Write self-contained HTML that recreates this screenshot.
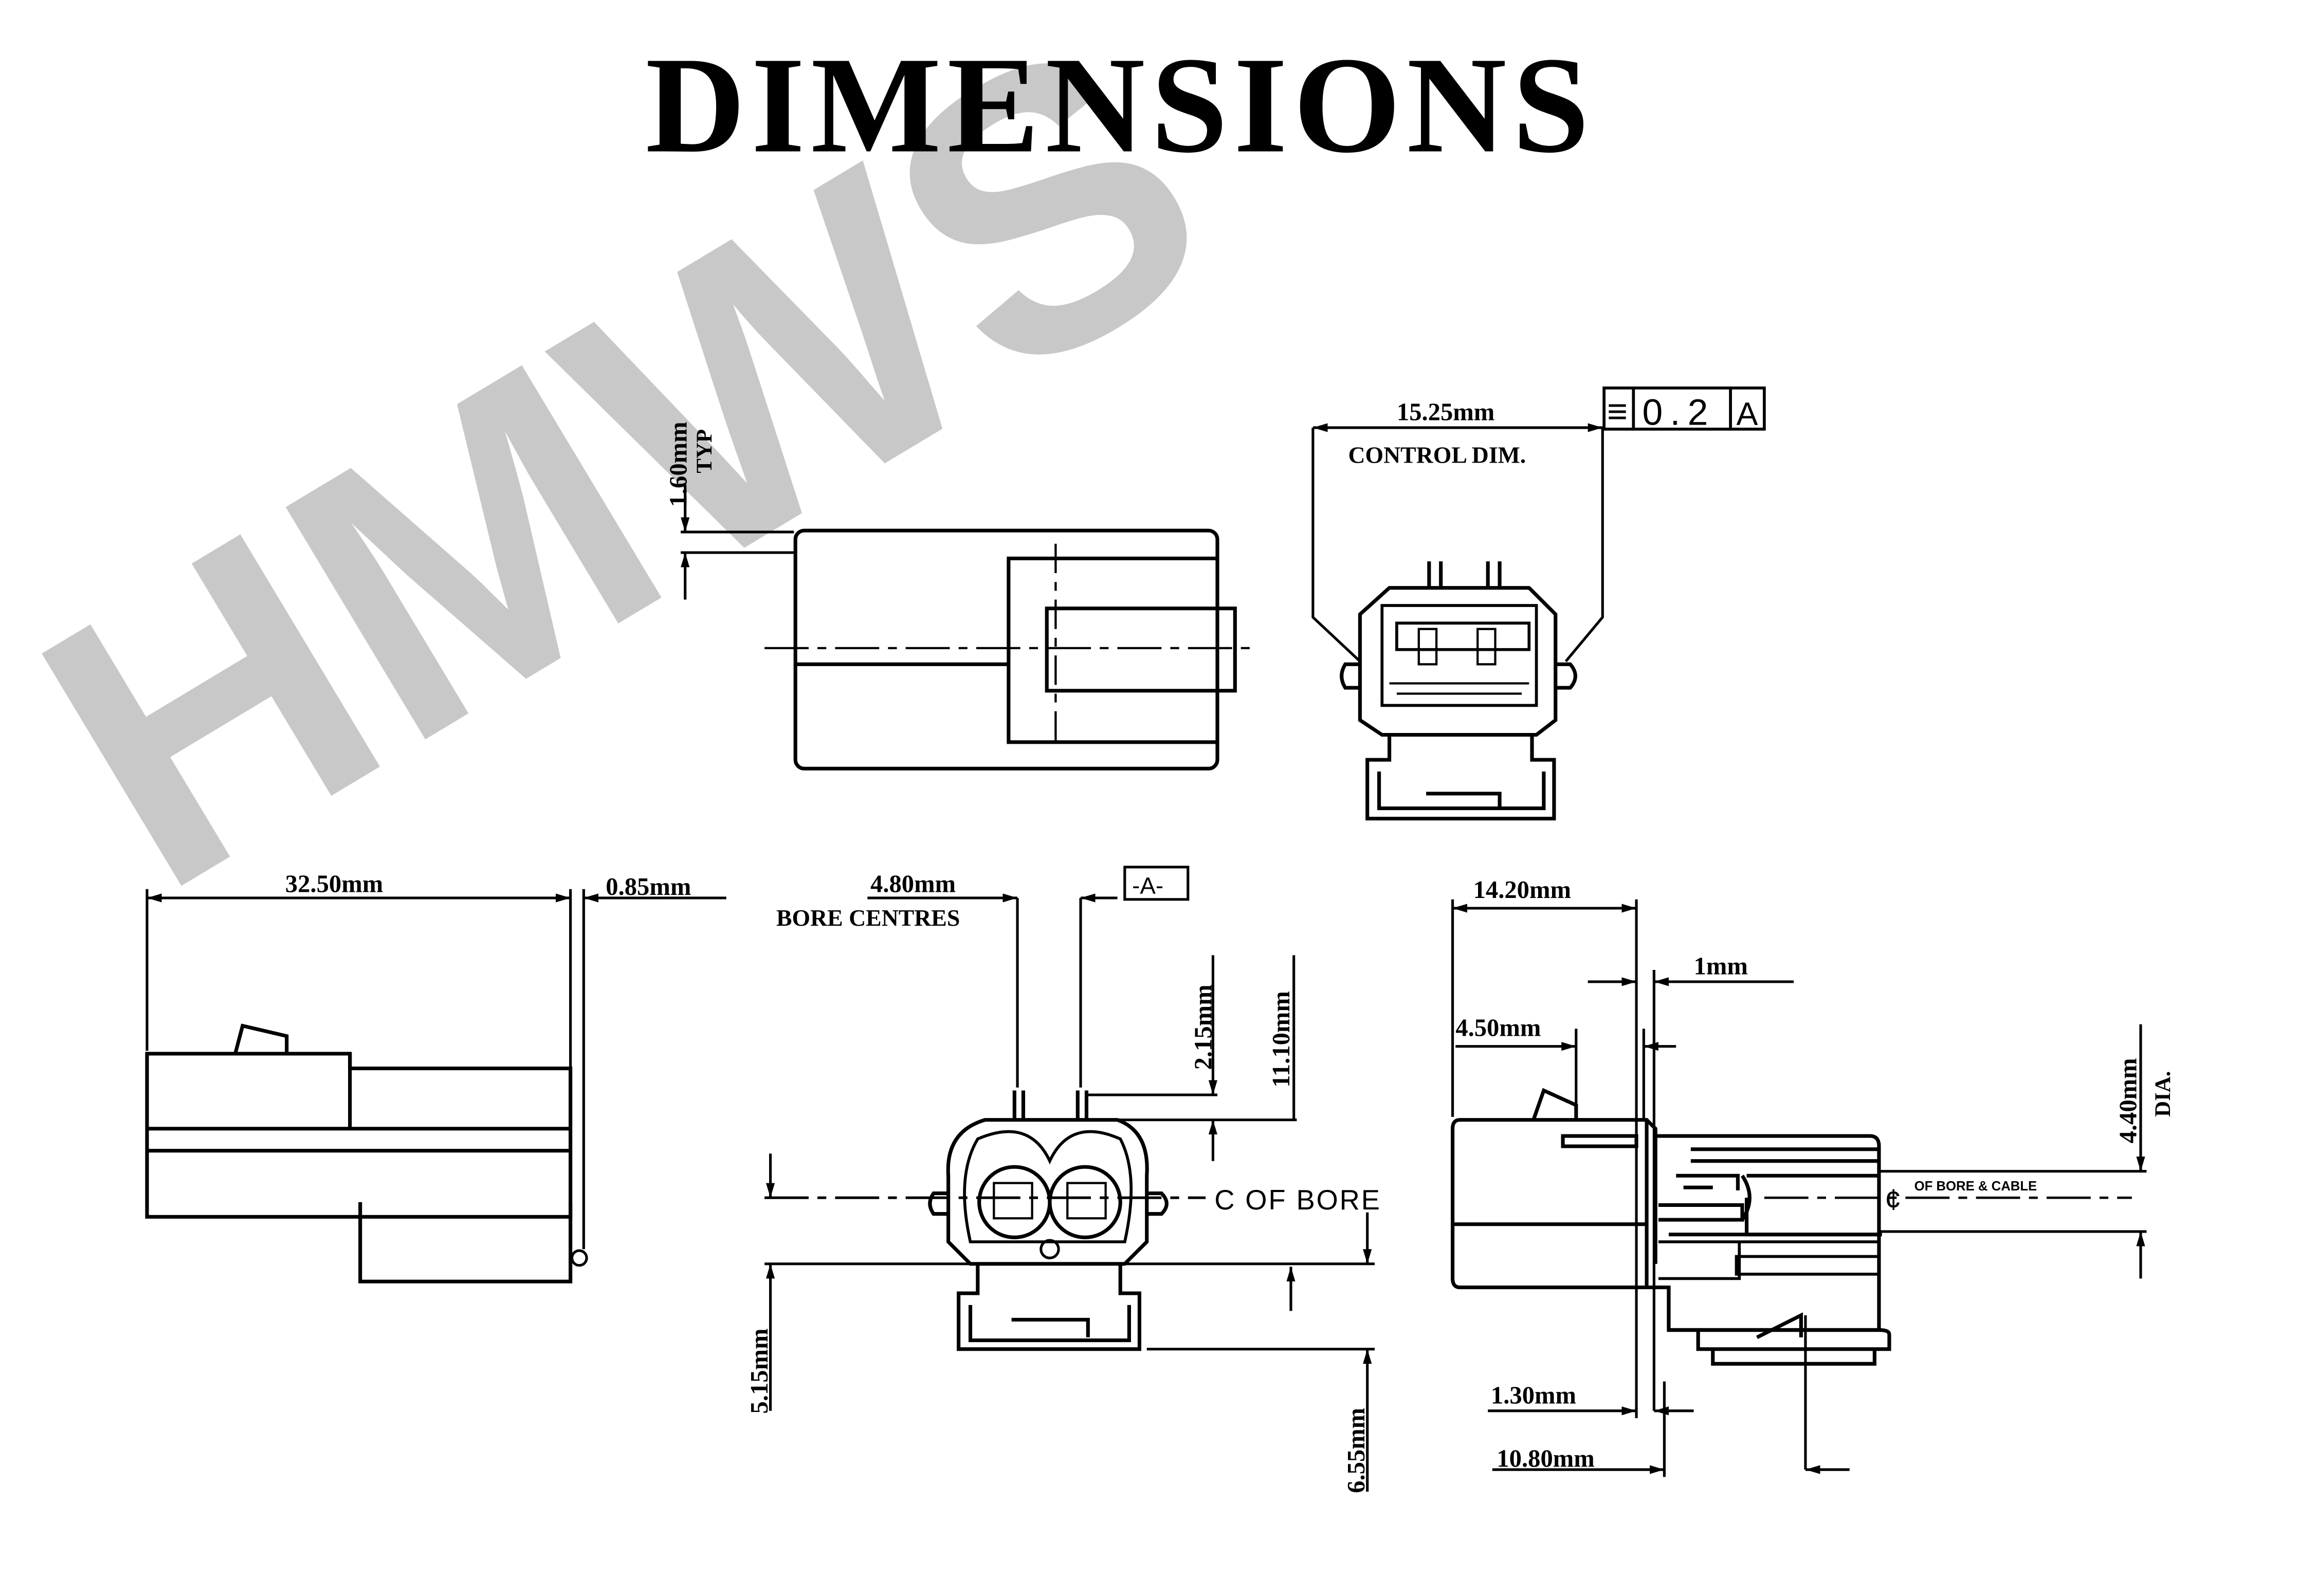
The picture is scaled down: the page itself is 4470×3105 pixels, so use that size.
<!DOCTYPE html>
<html><head><meta charset="utf-8"><style>
html,body{margin:0;padding:0;background:#fff;}
svg{display:block;}
text{font-family:"Liberation Serif",serif;font-weight:bold;fill:#000;}
</style></head><body>
<svg width="4470" height="3105" viewBox="0 0 1563 1086" preserveAspectRatio="none" xmlns="http://www.w3.org/2000/svg">
<defs>
<marker id="a" viewBox="0 0 10 6" refX="10" refY="3" markerWidth="10" markerHeight="6" markerUnits="userSpaceOnUse" orient="auto-start-reverse"><path d="M0,0 L10,3 L0,6 z" fill="#000"/></marker>
</defs>
<!-- watermark -->
<text x="0" y="0" transform="translate(108,612) rotate(-31)" style="font-family:'Liberation Sans',sans-serif;font-weight:bold;font-size:268px;fill:#c8c8c8">HMWS</text>
<text x="762" y="103" text-anchor="middle" style="font-size:94px;letter-spacing:4px">DIMENSIONS</text>

<g fill="none" stroke="#000" stroke-width="2.5">
<!-- top-left side view -->
<rect x="541" y="361" width="287" height="162" rx="6"/>
<path d="M828,380 H686 V505 H828"/>
<rect x="712" y="414" width="128" height="56"/>
<line x1="541" y1="452" x2="686" y2="452"/>
<line x1="520" y1="441" x2="850" y2="441" stroke-dasharray="30,6,6,6" stroke-width="1.5"/>
<line x1="718" y1="370" x2="718" y2="505" stroke-dasharray="20,6,6,6" stroke-width="1.5"/>
<line x1="463" y1="362" x2="540" y2="362" stroke-width="1.8"/>
<line x1="463" y1="376" x2="540" y2="376" stroke-width="1.8"/>
<line x1="466" y1="330" x2="466" y2="362" stroke-width="1.8" marker-end="url(#a)"/>
<line x1="466" y1="408" x2="466" y2="376" stroke-width="1.8" marker-end="url(#a)"/>

<!-- top-right front view -->
<path d="M945,400 H1040 L1058,418 V490 L1045,500 H940 L925,490 V418 Z"/>
<path d="M925,452 H915 Q910,460 915,468 H925 M1058,452 H1068 Q1075,460 1068,468 H1058"/>
<path d="M940,412 H1045 V480 H940 Z" stroke-width="2"/>
<rect x="950" y="424" width="90" height="18" stroke-width="2"/>
<rect x="965" y="428" width="12" height="24" stroke-width="1.5"/>
<rect x="1005" y="428" width="12" height="24" stroke-width="1.5"/>
<path d="M945,465 H1040 M950,472 H1035" stroke-width="1.5"/>
<path d="M972,400 V382 M980,400 V382 M1012,400 V382 M1020,400 V382"/>
<path d="M945,500 V517 H930 V557 H1057 V517 H1042 V500"/>
<path d="M938,525 V550 H1050 V525 M970,540 H1020 V550"/>
<path d="M893,291 V420 L925,450 M1090,291 V420 L1065,450" stroke-width="1.8"/>
<line x1="893" y1="291" x2="1090" y2="291" stroke-width="1.8" marker-start="url(#a)" marker-end="url(#a)"/>
<rect x="1091" y="264" width="109" height="28" stroke-width="2"/>
<path d="M1111,264 V292 M1177,264 V292" stroke-width="2"/>

<!-- bottom-left side view -->
<path d="M100,828 V717 H238 V727 H388 V828 Z"/>
<line x1="238" y1="717" x2="238" y2="768"/>
<path d="M100,768 H388 M100,783 H388"/>
<path d="M245,818 V872 H388 V818"/>
<path d="M160,717 L165,698 L195,705 V717"/>
<path d="M100,605 V715 M388,605 V860 M397,605 V850" stroke-width="1.8"/>
<circle cx="394" cy="856" r="5" stroke-width="1.8"/>
<line x1="100" y1="611" x2="388" y2="611" stroke-width="1.8" marker-start="url(#a)" marker-end="url(#a)"/>
<line x1="494" y1="611" x2="397" y2="611" stroke-width="1.8" marker-end="url(#a)"/>

<!-- bottom-middle front view -->
<path d="M670,762 H760 Q782,770 780,800 V845 L765,860 H660 L645,845 V800 Q643,770 670,762 Z"/>
<path d="M645,812 H635 Q630,819 635,826 H645 M780,812 H790 Q797,819 790,826 H780"/>
<path d="M665,775 Q700,760 714,790 Q728,760 762,775 Q775,800 765,845 H660 Q650,800 665,775 Z" stroke-width="2"/>
<circle cx="690" cy="818" r="24"/>
<circle cx="738" cy="818" r="24"/>
<rect x="676" y="805" width="26" height="24" stroke-width="1.5"/>
<rect x="726" y="805" width="26" height="24" stroke-width="1.5"/>
<circle cx="714" cy="850" r="6" stroke-width="1.8"/>
<path d="M690,762 V742 M696,762 V742 M733,762 V742 M739,762 V742"/>
<path d="M665,860 V880 H652 V918 H775 V880 H762 V860"/>
<path d="M660,888 V912 H768 V888 M688,898 H740 V910"/>
<path d="M692,611 V740 M735,611 V740" stroke-width="1.8"/>
<line x1="590" y1="611" x2="692" y2="611" stroke-width="1.8" marker-end="url(#a)"/>
<line x1="760" y1="611" x2="735" y2="611" stroke-width="1.8" marker-end="url(#a)"/>
<rect x="765" y="590" width="43" height="22" stroke-width="1.8"/>
<path d="M740,745 H828 M745,762 H882 M880,650 V762" stroke-width="1.8"/>
<line x1="825" y1="650" x2="825" y2="745" stroke-width="1.8" marker-end="url(#a)"/>
<line x1="825" y1="790" x2="825" y2="762" stroke-width="1.8" marker-end="url(#a)"/>
<line x1="520" y1="815" x2="820" y2="815" stroke-width="1.8" stroke-dasharray="30,6,6,6"/>
<line x1="520" y1="860" x2="935" y2="860" stroke-width="1.8"/>
<line x1="524" y1="785" x2="524" y2="815" stroke-width="1.8" marker-end="url(#a)"/>
<line x1="524" y1="960" x2="524" y2="860" stroke-width="1.8" marker-end="url(#a)"/>
<line x1="780" y1="918" x2="935" y2="918" stroke-width="1.8"/>
<line x1="930" y1="825" x2="930" y2="860" stroke-width="1.8" marker-end="url(#a)"/>
<line x1="878" y1="892" x2="878" y2="862" stroke-width="1.8" marker-end="url(#a)"/>
<line x1="930" y1="1015" x2="930" y2="918" stroke-width="1.8" marker-end="url(#a)"/>

<!-- bottom-right side view -->
<path d="M993,762 H1120 L1126,768 V773 H1272 Q1278,773 1278,780 V905 H1135 V876 H993 Q988,876 988,870 V768 Q988,762 993,762 Z"/>
<path d="M988,833 H1120 M1120,762 V876 M1063,773 H1113 V780 H1063 Z"/>
<path d="M1126,773 V860 M1135,876 V905 M1135,840 H1280"/>
<path d="M1150,782 H1278 M1150,790 H1278 M1140,800 H1182 V810 M1145,808 H1165"/>
<path d="M1128,820 H1185 V830 H1128 M1185,800 Q1195,815 1185,830"/>
<path d="M1188,800 H1278 M1188,815 V840 H1278"/>
<path d="M1128,845 H1183 V870 H1128 M1180,845 H1278 M1181,855 H1278 V867 H1181 Z" stroke-width="2"/>
<path d="M1135,905 H1278 M1155,905 V918 H1285 V908 Q1285,905 1278,905 M1165,918 V928 H1275 V918"/>
<path d="M1195,910 L1225,895 V910"/>
<path d="M1043,762 L1050,742 L1072,752 V762"/>
<path d="M988,612 V760 M1113,612 V965 M1118,700 V762 M1125,660 V960 M1132,940 V1005 M1228,895 V1000 M1072,700 V760" stroke-width="1.8"/>
<line x1="988" y1="618" x2="1113" y2="618" stroke-width="1.8" marker-start="url(#a)" marker-end="url(#a)"/>
<line x1="1080" y1="668" x2="1113" y2="668" stroke-width="1.8" marker-end="url(#a)"/>
<line x1="1220" y1="668" x2="1125" y2="668" stroke-width="1.8" marker-end="url(#a)"/>
<line x1="990" y1="712" x2="1072" y2="712" stroke-width="1.8" marker-end="url(#a)"/>
<line x1="1140" y1="712" x2="1118" y2="712" stroke-width="1.8" marker-end="url(#a)"/>
<line x1="1012" y1="960" x2="1113" y2="960" stroke-width="1.8" marker-end="url(#a)"/>
<line x1="1152" y1="960" x2="1125" y2="960" stroke-width="1.8" marker-end="url(#a)"/>
<line x1="1015" y1="1000" x2="1132" y2="1000" stroke-width="1.8" marker-end="url(#a)"/>
<line x1="1258" y1="1000" x2="1228" y2="1000" stroke-width="1.8" marker-end="url(#a)"/>
<path d="M1278,797 H1460 M1278,838 H1460" stroke-width="1.8"/>
<line x1="1456" y1="697" x2="1456" y2="797" stroke-width="1.8" marker-end="url(#a)"/>
<line x1="1456" y1="870" x2="1456" y2="838" stroke-width="1.8" marker-end="url(#a)"/>
<line x1="1200" y1="815" x2="1450" y2="815" stroke-width="1.6" stroke-dasharray="30,6,6,6"/>
</g>

<!-- labels -->
<g style="font-size:17px">
<text x="950" y="286">15.25mm</text>
<text x="917" y="315" style="font-size:16px">CONTROL DIM.</text>
<text x="1093" y="288" style="font-family:'Liberation Sans',sans-serif;font-weight:normal;font-size:24px">≡</text>
<text x="1117" y="289" style="font-family:'Liberation Sans',sans-serif;font-weight:normal;font-size:25px;letter-spacing:5px">0.2</text>
<text x="1181" y="289" style="font-family:'Liberation Sans',sans-serif;font-weight:normal;font-size:22px">A</text>
<text transform="translate(467,345) rotate(-90)">1.60mm</text>
<text transform="translate(484,322) rotate(-90)" style="font-size:15px">TYP</text>
<text x="194" y="607">32.50mm</text>
<text x="412" y="609">0.85mm</text>
<text x="592" y="607">4.80mm</text>
<text x="528" y="630" style="font-size:16px">BORE CENTRES</text>
<text x="770" y="608" style="font-family:'Liberation Sans',sans-serif;font-weight:normal;font-size:16px">-A-</text>
<text transform="translate(824,728) rotate(-90)">2.15mm</text>
<text transform="translate(877,740) rotate(-90)">11.10mm</text>
<text x="826" y="823" style="font-family:'Liberation Sans',sans-serif;font-weight:normal;font-size:19px;letter-spacing:1px">C OF  BORE</text>
<text transform="translate(522,962) rotate(-90)">5.15mm</text>
<text transform="translate(928,1016) rotate(-90)">6.55mm</text>
<text x="1002" y="611">14.20mm</text>
<text x="1152" y="663">1mm</text>
<text x="990" y="705">4.50mm</text>
<text transform="translate(1453,778) rotate(-90)">4.40mm</text>
<text transform="translate(1476,760) rotate(-90)" style="font-size:15px">DIA.</text>
<text x="1302" y="810" style="font-family:'Liberation Sans',sans-serif;font-size:9px">OF BORE &amp; CABLE</text>
<text x="1282" y="823" style="font-family:'Liberation Sans',sans-serif;font-weight:normal;font-size:20px">¢</text>
<text x="1014" y="955">1.30mm</text>
<text x="1018" y="998">10.80mm</text>
</g>
</svg>
</body></html>
